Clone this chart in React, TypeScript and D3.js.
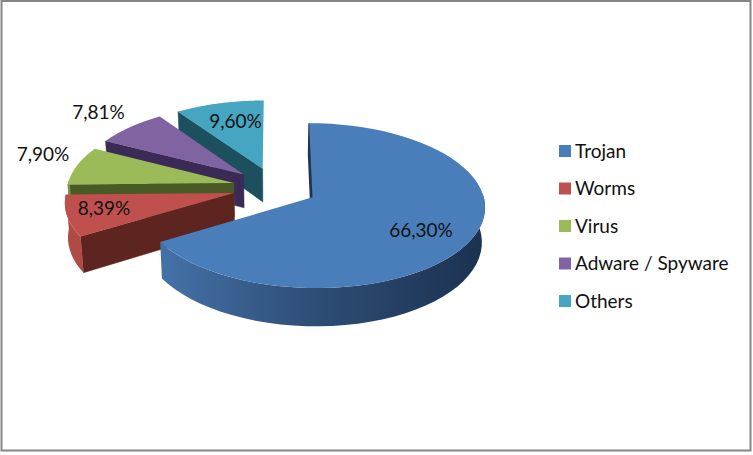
import React from 'react';
import * as d3 from 'd3';

const categories = ['Trojan', 'Worms', 'Virus', 'Adware / Spyware', 'Others'];
const shares = [66.3, 8.39, 7.9, 7.81, 9.6];
const shareLabels = ['66,30%', '8,39%', '7,90%', '7,81%', '9,60%'];
const topColors = ['#4a7ebb', '#c0504d', '#9bbb59', '#8064a2', '#46a5c0'];
const faceColors = ['#1d3552', '#5e241f', '#4a5a24', '#3b2a55', '#1c505e'];
const wallColors = ['#2c4a70', '#b04a46', '#7f9a48', '#6a528a', '#3a8aa0'];

const width = 753;
const height = 455;

// pie projection, tuned by eye against the picture
const cx = 275;
const cy = 187.4;
const rx = 170;
const ry = 80;
const persp = 0.1;
const explode = 0.25;
const depth = 34;
const shrink = 0.985;

const labelSpots: [number, number][] = [
  [421, 229],
  [104, 207],
  [43, 153],
  [98.5, 111],
  [235.5, 120],
];

const arcs = d3.pie<number>().sort(null).startAngle(0).endAngle(2 * Math.PI)(shares);

type Pt = [number, number];

function project(a: number, r: number, mid: number, low: boolean): Pt {
  const u = r * Math.sin(a) + explode * Math.sin(mid);
  const v = r * Math.cos(a) + explode * Math.cos(mid);
  const s = 1 / (1 + persp * v);
  const x = cx + rx * u * s;
  const y = cy - ry * v * s;
  if (!low) return [x, y];
  return [cx + (x - cx) * shrink, y + depth * s];
}

const path = d3.line<Pt>();

export default function App() {
  const legendY = d3.scalePoint<string>().domain(categories).range([151, 301]);

  const slices = arcs.map((d, i) => {
    const mid = (d.startAngle + d.endAngle) / 2;
    const r = i === 0 ? 0.995 : 0.98;
    const angles = d3.range(0, 61).map(k => d.startAngle + ((d.endAngle - d.startAngle) * k) / 60);
    const rim = angles.map(a => project(a, r, mid, false));
    const rimLow = angles.map(a => project(a, r, mid, true));
    // only the part of the rim turned towards the viewer gets a wall
    const front = angles.filter(a => Math.cos(a) < 0.05);
    const wallTop = front.map(a => project(a, r, mid, false));
    const wallLow = front.map(a => project(a, r, mid, true));
    const apex = project(0, 0, mid, false);
    const apexLow = project(0, 0, mid, true);
    return {
      i,
      top: path([apex, ...rim]) + 'Z',
      wall: front.length > 1 ? path([...wallTop, ...wallLow.reverse()]) + 'Z' : null,
      face: path([apex, rim[0], rimLow[0], apexLow]) + 'Z',
    };
  });

  // back to front: Others first, Trojan last
  const order = [4, 3, 2, 1, 0];

  return (
    <svg
      width={width}
      height={height}
      style={{ position: 'absolute', left: 0, top: 0, background: '#fff' }}
      fontFamily="Lato, 'Open Sans', sans-serif"
    >
      <defs>
        <linearGradient id="trojan-wall" gradientUnits="userSpaceOnUse" x1={160} y1={0} x2={485} y2={0}>
          <stop offset="0%" stopColor="#4472a8" />
          <stop offset="45%" stopColor="#2f4f78" />
          <stop offset="100%" stopColor="#1b3150" />
        </linearGradient>
      </defs>
      <rect x={1.5} y={1} width={749} height={449.5} fill="#fff" stroke="#868686" strokeWidth={2} />
      {order.map(i => {
        const s = slices[i];
        return (
          <g key={categories[i]}>
            <path d={s.face} fill={faceColors[i]} stroke={faceColors[i]} strokeWidth={i === 0 ? 1.5 : 0.5} />
            {s.wall && <path d={s.wall} fill={i === 0 ? 'url(#trojan-wall)' : wallColors[i]} />}
            <path d={s.top} fill={topColors[i]} />
          </g>
        );
      })}
      {shareLabels.map((t, i) => (
        <text
          key={t}
          x={labelSpots[i][0]}
          y={labelSpots[i][1]}
          textAnchor="middle"
          dominantBaseline="central"
          fontSize={19}
          fill="#111"
        >
          {t}
        </text>
      ))}
      {categories.map((c, i) => (
        <g key={c} transform={`translate(559,${legendY(c)})`}>
          <rect x={0} y={-6} width={12} height={12} fill={topColors[i]} />
          <text x={16} y={-1} dominantBaseline="central" fontSize={19} fill="#111">
            {c}
          </text>
        </g>
      ))}
    </svg>
  );
}
